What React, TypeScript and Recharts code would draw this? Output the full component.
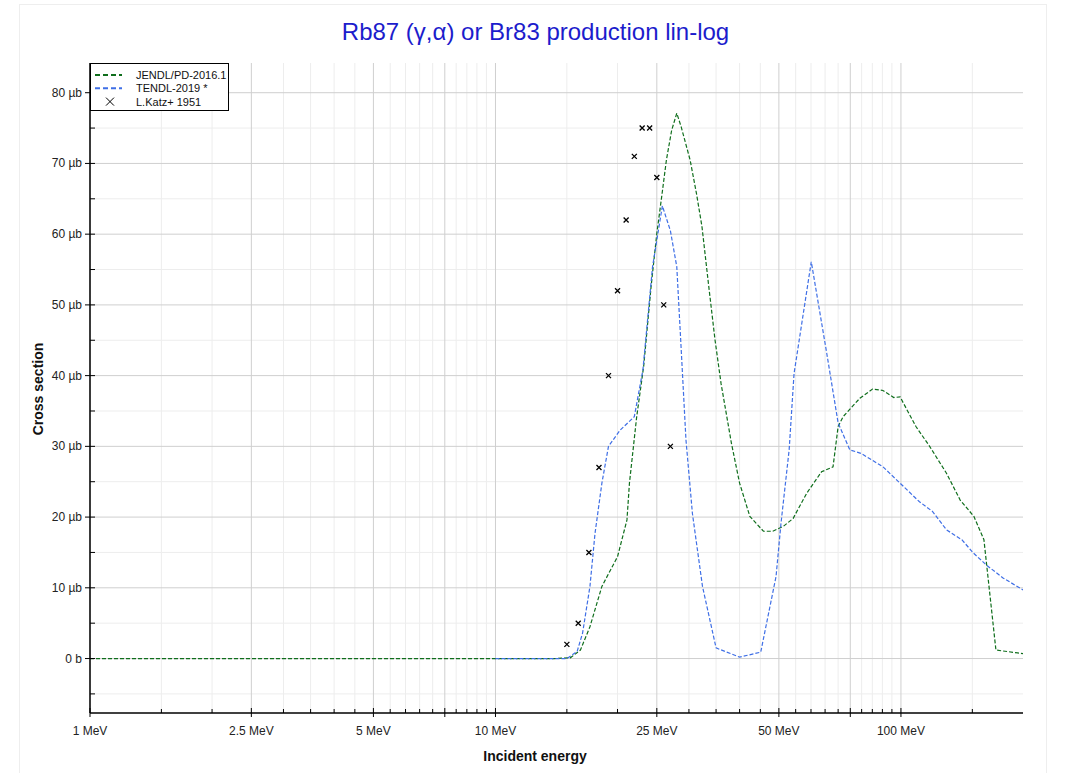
import {
  ComposedChart,
  Line,
  Scatter,
  XAxis,
  YAxis,
  CartesianGrid,
  Legend,
} from "recharts";

// JENDL/PD-2016.1 (energy in MeV, cross section in µb)
const jendlE = [
  1, 10, 14, 15.3, 16.2, 17.1, 18.3, 20.0, 21.1, 21.4, 22.3, 23.2, 24.2, 25.0, 25.7, 26.4, 27.2, 28.0, 28.7,
  30.2, 31.3, 32.3, 33.5, 34.8, 36.0, 38.2, 40.0, 42.4, 45.8, 48.3, 51.3, 54.2, 58.6, 63.7, 68.0, 70.0, 72.0,
  79.2, 85.1, 90.3, 96.0, 99.5, 108.9, 117.7, 129.5, 140, 151.3, 160.2, 171.5, 200,
];
const jendlV = [
  0, 0, 0, 0.1, 1.2, 4.5, 10.2, 14.4, 19.6, 24.8, 34.2, 41.3, 52.6, 60.1, 65.3, 70.5, 74.7, 77.1, 75.2,
  70.5, 65.8, 61.1, 53.1, 45.0, 38.9, 30.4, 24.8, 20.1, 18.0, 18.0, 18.7, 19.8, 23.4, 26.4, 27.1, 32.8, 34.2,
  36.8, 38.1, 37.9, 36.9, 37.0, 32.8, 30.0, 26.2, 22.4, 20.1, 16.8, 1.2, 0.7,
];

// TENDL-2019 *
const tendlE = [
  10, 15.0, 15.9, 16.4, 17.1, 17.6, 18.3, 19.0, 20.3, 22.0, 23.1, 24.4, 25.8, 27.0, 28.0, 28.7, 29.5, 30.6,
  32.4, 35.0, 40.0, 45.1, 49.2, 50.6, 53.0, 54.5, 60.1, 65.6, 70.0, 74.8, 79.8, 90.3, 99.5, 110.9, 119.6,
  129.5, 141.3, 151, 162.6, 178.5, 200,
];
const tendlV = [
  0, 0, 1.0, 3.6, 10.2, 17.7, 24.8, 30.0, 32.3, 34.2, 40.8, 55.4, 64.0, 60.5, 55.4, 43.9, 30.9, 20.5,
  10.2, 1.5, 0.2, 0.9, 11.6, 19.1, 29.5, 40.3, 56.1, 43.2, 33.3, 29.5, 29.0, 27.1, 24.8, 22.2, 20.8,
  18.2, 16.8, 14.9, 13.2, 11.4, 9.7,
];

// L.Katz+ 1951
const katzE = [15, 16, 17, 18, 19, 20, 21, 22, 23, 24, 25, 26, 27];
const katzV = [2, 5, 15, 27, 40, 52, 62, 71, 75, 75, 68, 50, 30];

const xLabelValues = [1, 2.5, 5, 10, 25, 50, 100];
const xLabels = ["1 MeV", "2.5 MeV", "5 MeV", "10 MeV", "25 MeV", "50 MeV", "100 MeV"];
const xMajor = [1, 2.5, 5, 7.5, 10, 25, 50, 75, 100];
const xMinor = [
  1.5, 2, 3, 3.5, 4, 4.5, 5.5, 6, 6.5, 7, 8, 8.5, 9, 9.5, 15, 20, 30, 35, 40, 45, 55, 60, 65, 70, 80, 85,
  90, 95, 150,
];
const yMajor = [0, 10, 20, 30, 40, 50, 60, 70, 80];
const yMinor = [-5, 5, 15, 25, 35, 45, 55, 65, 75];

const xTicks = [...xMajor, ...xMinor].sort((a, b) => a - b);
const yTicks = [...yMajor, ...yMinor].sort((a, b) => a - b);

const GREEN = "#0f6e1c";
const BLUE = "#3f6fe6";
const FONT = '"Liberation Sans", Arial, sans-serif';

const toPoints = (es: number[], vs: number[]) => es.map((e, i) => ({ e, v: vs[i] }));
const jendl = toPoints(jendlE, jendlV);
const tendl = toPoints(tendlE, tendlV);
const katz = toPoints(katzE, katzV);

const legendItems = [
  { name: "JENDL/PD-2016.1", color: GREEN, cross: false },
  { name: "TENDL-2019 *", color: BLUE, cross: false },
  { name: "L.Katz+ 1951", color: "#000", cross: true },
];

function BottomTick(props: any) {
  const { x, y, payload } = props;
  const v = payload.value;
  const major = xMajor.includes(v);
  const idx = xLabelValues.indexOf(v);
  return (
    <g>
      <line x1={x} x2={x} y1={major ? y - 5 : y - 4} y2={major ? y + 4 : y} stroke="#000" />
      {idx >= 0 && (
        <text x={x} y={y + 22} textAnchor="middle" fontSize={12} fill="#222" fontFamily={FONT}>
          {xLabels[idx]}
        </text>
      )}
    </g>
  );
}

function TopTick(props: any) {
  const { x, y } = props;
  return <line x1={x} x2={x} y1={y} y2={y + 5} stroke="#000" />;
}

function LeftTick(props: any) {
  const { x, y, payload } = props;
  const v = payload.value;
  const major = yMajor.includes(v);
  return (
    <g>
      <line x1={major ? x - 5 : x} x2={x + 5} y1={y} y2={y} stroke="#000" />
      {major && (
        <text x={x - 8} y={y + 4} textAnchor="end" fontSize={12} fill="#222" fontFamily={FONT}>
          {v === 0 ? "0 b" : `${v} µb`}
        </text>
      )}
    </g>
  );
}

function RightTick(props: any) {
  const { x, y } = props;
  return <line x1={x - 5} x2={x} y1={y} y2={y} stroke="#000" />;
}

function Cross(props: any) {
  const { cx, cy } = props;
  const s = 2.5;
  return (
    <path
      d={`M${cx - s},${cy - s}L${cx + s},${cy + s}M${cx - s},${cy + s}L${cx + s},${cy - s}`}
      stroke="#000"
      strokeWidth={1.3}
    />
  );
}

function LegendBox() {
  return (
    <div
      style={{
        width: 139,
        height: 48,
        boxSizing: "border-box",
        border: "1px solid #000",
        background: "#fff",
        fontFamily: FONT,
      }}
    >
      <svg width={137} height={46} style={{ display: "block" }}>
        {legendItems.map((it, i) => {
          const cy = 11 + i * 13.3;
          return (
            <g key={it.name}>
              {it.cross ? (
                <path
                  d={`M15,${cy - 4}L23,${cy + 4}M15,${cy + 4}L23,${cy - 4}`}
                  stroke="#000"
                  strokeWidth={1}
                />
              ) : (
                <line x1={4} x2={31} y1={cy} y2={cy} stroke={it.color} strokeWidth={2} strokeDasharray="5 3" />
              )}
              <text x={45} y={cy + 4} fontSize={11} fill="#111">
                {it.name}
              </text>
            </g>
          );
        })}
      </svg>
    </div>
  );
}

export default function App() {
  return (
    <div style={{ position: "absolute", left: 0, top: 0, width: 1071, height: 773, background: "#fff", fontFamily: FONT }}>
      <div
        style={{
          position: "absolute",
          left: 19,
          top: 4,
          width: 1028,
          height: 800,
          border: "1px solid #eeeeee",
          boxSizing: "border-box",
        }}
      />
      <ComposedChart width={1071} height={773} margin={{ top: 63, right: 48, bottom: 0, left: 0 }}>
        <CartesianGrid verticalValues={xMinor} horizontalValues={yMinor} stroke="#ededed" />
        <CartesianGrid verticalValues={xMajor} horizontalValues={yMajor} stroke="#cfcfcf" />
        <XAxis
          dataKey="e"
          type="number"
          scale="log"
          domain={[1, 200]}
          allowDataOverflow
          ticks={xTicks}
          interval={0}
          tickSize={0}
          tickMargin={0}
          tick={BottomTick}
          height={60}
          axisLine={{ stroke: "#000", strokeWidth: 1.5 }}
          label={{
            content: () => (
              <text x={535} y={761} textAnchor="middle" fontSize={14} fontWeight="bold" fill="#111" fontFamily={FONT}>
                Incident energy
              </text>
            ),
          }}
        />
        <XAxis
          xAxisId="top"
          dataKey="e"
          type="number"
          scale="log"
          orientation="top"
          domain={[1, 200]}
          allowDataOverflow
          ticks={xTicks}
          interval={0}
          tickSize={0}
          tickMargin={0}
          tick={TopTick}
          height={0}
          axisLine={{ stroke: "#000", strokeWidth: 1.5 }}
        />
        <YAxis
          dataKey="v"
          type="number"
          domain={[-7.7, 84.2]}
          allowDataOverflow
          ticks={yTicks}
          interval={0}
          tickSize={0}
          tickMargin={0}
          tick={LeftTick}
          width={90}
          axisLine={{ stroke: "#000", strokeWidth: 1.5 }}
          label={{
            content: () => (
              <text
                transform="rotate(-90)"
                x={-389}
                y={43}
                textAnchor="middle"
                fontSize={14}
                fontWeight="bold"
                fill="#111"
                fontFamily={FONT}
              >
                Cross section
              </text>
            ),
          }}
        />
        <YAxis
          yAxisId="right"
          orientation="right"
          type="number"
          domain={[-7.7, 84.2]}
          allowDataOverflow
          ticks={yTicks}
          interval={0}
          tickSize={0}
          tickMargin={0}
          tick={RightTick}
          width={0}
          axisLine={{ stroke: "#000", strokeWidth: 1.5 }}
        />
        <Legend
          layout="vertical"
          align="center"
          verticalAlign="middle"
          content={LegendBox}
          wrapperStyle={{ left: 90, top: 63, width: 139 }}
        />
        <Line
          data={jendl}
          dataKey="v"
          type="linear"
          stroke={GREEN}
          strokeWidth={1.2}
          strokeDasharray="4 2"
          dot={false}
          isAnimationActive={false}
          name="JENDL/PD-2016.1"
        />
        <Line
          data={tendl}
          dataKey="v"
          type="linear"
          stroke={BLUE}
          strokeWidth={1.2}
          strokeDasharray="4 2"
          dot={false}
          isAnimationActive={false}
          name="TENDL-2019 *"
        />
        <Scatter data={katz} dataKey="v" shape={Cross} isAnimationActive={false} name="L.Katz+ 1951" />
      </ComposedChart>
      <div
        style={{
          position: "absolute",
          left: 0,
          top: 18,
          width: 1071,
          textAlign: "center",
          fontSize: 24,
          color: "#1c1ccc",
          fontFamily: FONT,
        }}
      >
        Rb87 (γ,α) or Br83 production lin-log
      </div>
    </div>
  );
}
